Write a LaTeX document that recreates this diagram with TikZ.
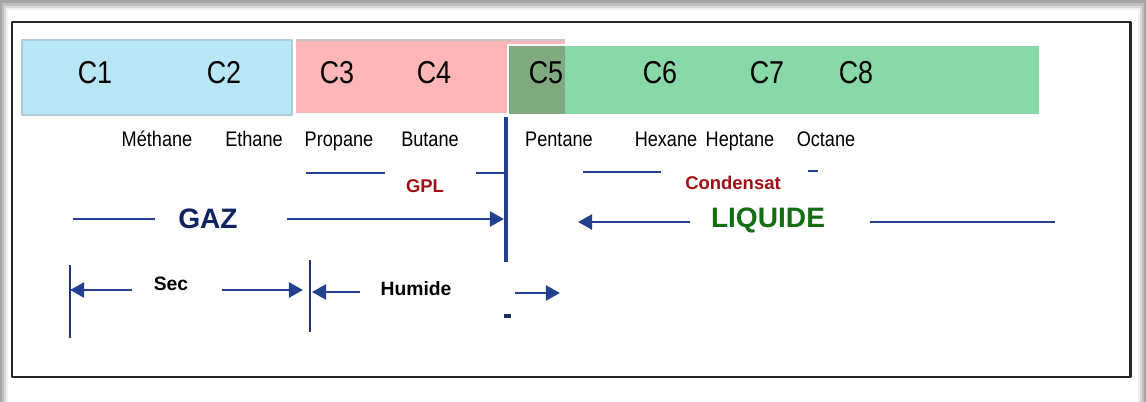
\documentclass[tikz,border=0pt]{standalone}
\usepackage{fontspec}
\setmainfont{Liberation Sans}
\usetikzlibrary{arrows.meta}

\definecolor{bleuciel}{HTML}{B9E6F5}
\definecolor{rose}{HTML}{FFB6B6}
\definecolor{vert}{HTML}{88D8A8}
\definecolor{vertfonce}{HTML}{7FAA80}
\definecolor{marine}{HTML}{24418F}
\definecolor{bleunuit}{HTML}{0F2360}
\definecolor{rouge}{HTML}{A00F14}
\definecolor{vertliq}{HTML}{146E14}

\begin{document}
\begin{tikzpicture}[
        x = 0.02cm, y = -0.02cm,
        line join=round,
        trait/.style = {line width=1.6pt, marine},
        fleche/.style = {trait, -{Triangle[length=8pt, width=8.5pt]}},
        repere/.style = {line width=0.8pt, marine!80!black},
        carbone/.style = {font=\fontsize{18}{18}\selectfont, text=black, xscale=0.85},
        nom/.style = {font=\fontsize{12}{12}\selectfont, text=black, xscale=0.86, anchor=base},
        coupe/.style = {font=\fontsize{10.5}{10.5}\selectfont\bfseries, text=rouge},
        phase/.style = {font=\fontsize{16}{16}\selectfont\bfseries},
        zone/.style = {font=\fontsize{11}{11}\selectfont\bfseries, text=black}
    ]
        \useasboundingbox (0, 0) rectangle (1146, 402);
        \fill[gray!70] (0, 0) rectangle (1146, 402);
        \fill[gray!50] (2, 3) rectangle (1144, 402);
        \fill[gray!30] (4, 6) rectangle (1142, 402);
        \fill[gray!12] (6, 8) rectangle (1140, 402);
        \fill[white] (8, 10) rectangle (1138, 402);
        \draw[line width=1.7pt, black!85] (12, 22) rectangle (1130, 377);

        \fill[bleuciel] (22, 40) rectangle (292, 115);
        \draw[bleuciel!75!gray, line width=0.6pt] (22, 40) rectangle (292, 115);
        \fill[rose] (296, 40) rectangle (565, 113);
        \draw[gray!45, line width=0.6pt] (296, 40) -- (565, 40);
        \fill[vert] (508, 45) rectangle (1040, 115);
        \fill[vertfonce] (508, 45) rectangle (565, 115);
        \draw[white, line width=0.8pt] (508, 45) rectangle (1040, 115);

        \node[carbone] (c1) at (95, 73) {C1};
        \node[carbone] (c2) at (224, 73) {C2};
        \node[carbone] (c3) at (337, 73) {C3};
        \node[carbone] (c4) at (434, 73) {C4};
        \node[carbone] (c5) at (546, 73) {C5};
        \node[carbone] (c6) at (660, 73) {C6};
        \node[carbone] (c7) at (767, 73) {C7};
        \node[carbone] (c8) at (856, 73) {C8};

        \node[nom] (methane) at (157, 147) {Méthane};
        \node[nom] (ethane) at (254, 147) {Ethane};
        \node[nom] (propane) at (339, 147) {Propane};
        \node[nom] (butane) at (430, 147) {Butane};
        \node[nom] (pentane) at (559, 147) {Pentane};
        \node[nom] (hexane) at (666, 147) {Hexane};
        \node[nom] (heptane) at (740, 147) {Heptane};
        \node[nom] (octane) at (826, 147) {Octane};

        \coordinate (barH) at (506, 117);
        \coordinate (barB) at (506, 262);
        \draw[marine, line width=2.4pt] (barH) -- (barB);

        \coordinate (gplA) at (306, 173);
        \coordinate (gplB) at (385, 173);
        \coordinate (gplC) at (476, 173);
        \coordinate (gplD) at (504, 173);
        \node[coupe] (gpl) at (425, 186) {GPL};
        \draw[trait] (gplA) -- (gplB);
        \draw[trait] (gplC) -- (gplD);

        \coordinate (condA) at (583, 172);
        \coordinate (condB) at (661, 172);
        \coordinate (condC) at (808, 171);
        \coordinate (condD) at (818, 171);
        \node[coupe] (condensat) at (733, 183) {Condensat};
        \draw[trait] (condA) -- (condB);
        \draw[trait] (condC) -- (condD);

        \coordinate (gazA) at (73, 219);
        \coordinate (gazB) at (155, 219);
        \coordinate (gazC) at (287, 219);
        \coordinate (gazD) at (504, 219);
        \node[phase, text=bleunuit] (gaz) at (208, 219) {GAZ};
        \draw[trait] (gazA) -- (gazB);
        \draw[fleche] (gazC) -- (gazD);

        \coordinate (liqA) at (578, 222);
        \coordinate (liqB) at (690, 222);
        \coordinate (liqC) at (870, 222);
        \coordinate (liqD) at (1055, 222);
        \node[phase, text=vertliq] (liquide) at (768, 220) {LIQUIDE};
        \draw[fleche] (liqB) -- (liqA);
        \draw[trait] (liqC) -- (liqD);

        \coordinate (secH) at (70, 265);
        \coordinate (secB) at (70, 338);
        \coordinate (humH) at (310, 260);
        \coordinate (humB) at (310, 332);
        \draw[repere] (secH) -- (secB);
        \draw[repere] (humH) -- (humB);

        \node[zone] (sec) at (171, 284) {Sec};
        \coordinate (secA) at (132, 290);
        \coordinate (secG) at (70, 290);
        \coordinate (secC) at (222, 290);
        \coordinate (secD) at (303, 290);
        \draw[fleche] (secA) -- (secG);
        \draw[fleche] (secC) -- (secD);

        \node[zone] (humide) at (416, 289) {Humide};
        \coordinate (humA) at (360, 292);
        \coordinate (humG) at (312, 292);
        \coordinate (humC) at (515, 293);
        \coordinate (humD) at (560, 293);
        \draw[fleche] (humA) -- (humG);
        \draw[fleche] (humC) -- (humD);
        \fill[marine!70!black] (504, 314) rectangle (511, 318);

    \end{tikzpicture}
\end{document}
